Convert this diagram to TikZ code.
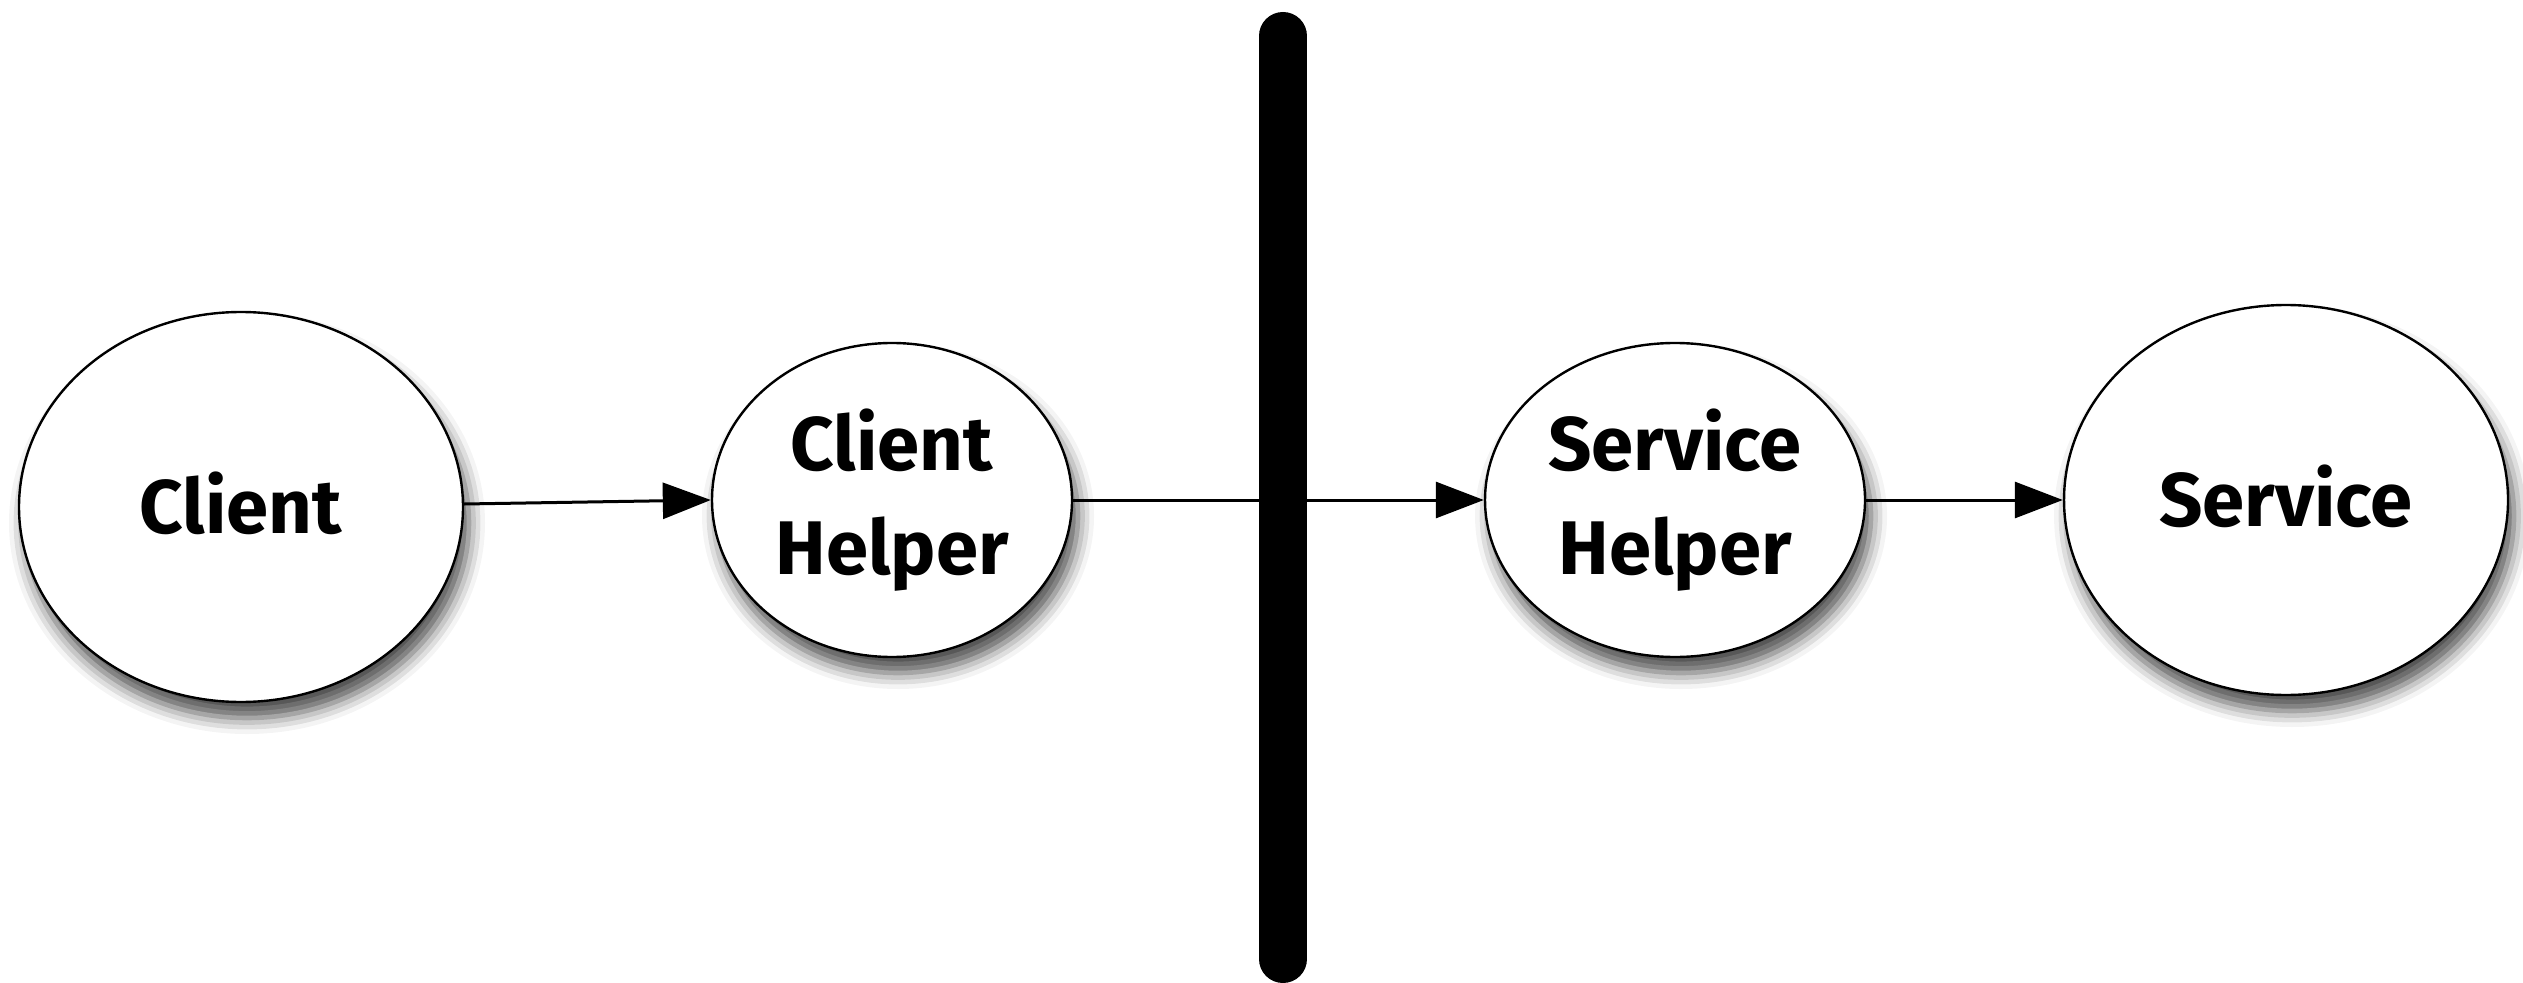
\documentclass[tikz,border=0pt]{standalone}
\usepackage{fontspec}
\setmainfont{Fira Sans}
\usetikzlibrary{shapes.geometric,arrows.meta,shadows.blur}
\begin{document}
\begin{tikzpicture}[x=0.25pt,y=-0.25pt,
  bubble/.style={ellipse,draw=black,line width=0.6pt,fill=white,inner sep=0pt,
    align=center,font=\fontsize{19}{26}\selectfont\bfseries,
    blur shadow={shadow xshift=1.5pt,shadow yshift=-4pt,shadow blur radius=4pt,shadow opacity=70}},
  link/.style={line width=0.75pt,-{Triangle[length=12pt,width=9pt]}}]
\useasboundingbox (0,0) rectangle (2523,983);
\node[bubble,minimum width=111pt,minimum height=97.5pt,text depth=2pt] (client) at (241,507) {Client};
\node[bubble,minimum width=90pt,minimum height=78.5pt] (chelper) at (892,500) {Client\\Helper};
\node[bubble,minimum width=95pt,minimum height=78.5pt] (shelper) at (1675,500) {Service\\Helper};
\node[bubble,minimum width=111pt,minimum height=97.5pt,text depth=2pt] (service) at (2286,500) {Service};
\coordinate (bartop) at (1283,36);
\coordinate (barbot) at (1283,959);
\draw[link] (client.east |- 0,504) -- (chelper.west);
\draw[link] (chelper.east) -- (shelper.west);
\draw[link] (shelper.east) -- (service.west);
\draw[line width=12pt,line cap=round] (bartop) -- (barbot);
\end{tikzpicture}
\end{document}
